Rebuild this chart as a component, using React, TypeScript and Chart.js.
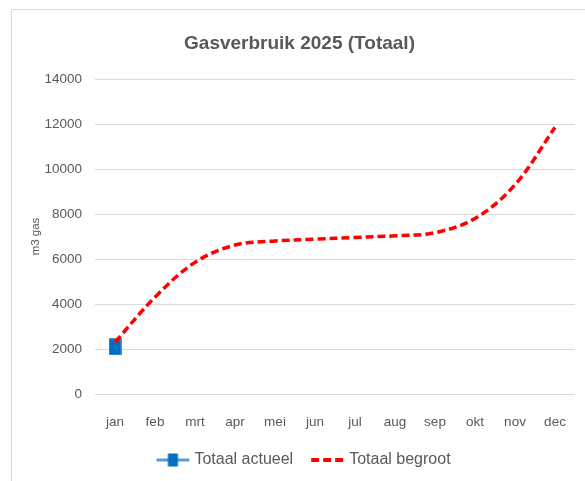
import React, { useEffect, useRef } from "react";
import { Chart, registerables } from "chart.js";

Chart.register(...registerables);

const months = ["jan", "feb", "mrt", "apr", "mei", "jun", "jul", "aug", "sep", "okt", "nov", "dec"];
const totaalActueel: (number | null)[] = [2100, null, null, null, null, null, null, null, null, null, null, null];
const totaalBegroot = [2300, 4300, 5850, 6620, 6800, 6880, 6960, 7030, 7170, 7800, 9300, 11850];
const yTicks = [0, 2000, 4000, 6000, 8000, 10000, 12000, 14000];

const FONT = "'Liberation Sans', Arial, sans-serif";
const TEXT = "#595959";

function makeCanvas(w: number, h: number, draw: (c: CanvasRenderingContext2D) => void) {
  const c = document.createElement("canvas");
  c.width = w;
  c.height = h;
  const ctx = c.getContext("2d")!;
  draw(ctx);
  return c;
}

export default function App() {
  const ref = useRef<HTMLCanvasElement | null>(null);

  useEffect(() => {
    if (!ref.current) return;

    const pointImg = makeCanvas(13, 17, (c) => {
      c.fillStyle = "#0070c0";
      c.fillRect(0, 0, 13, 17);
      c.strokeStyle = "#4a8fd0";
      c.lineWidth = 1;
      c.strokeRect(0.5, 0.5, 12, 16);
    });

    const legActueel = makeCanvas(60, 20, (c) => {
      c.strokeStyle = "#5b9bd5";
      c.lineWidth = 3;
      c.beginPath();
      c.moveTo(19, 10);
      c.lineTo(52, 10);
      c.stroke();
      c.fillStyle = "#0070c0";
      c.fillRect(30.5, 3.5, 10, 13);
    });

    const legBegroot = makeCanvas(60, 20, (c) => {
      c.strokeStyle = "#ff0000";
      c.lineWidth = 4;
      c.setLineDash([8, 4]);
      c.beginPath();
      c.moveTo(19, 10);
      c.lineTo(51, 10);
      c.stroke();
    });

    const chart = new Chart(ref.current, {
      type: "line",
      data: {
        labels: months,
        datasets: [
          {
            label: "Totaal actueel",
            data: totaalActueel,
            borderColor: "#5b9bd5",
            backgroundColor: "#0070c0",
            borderWidth: 3,
            pointStyle: pointImg as any,
            pointRadius: 7,
            order: 1,
          },
          {
            label: "Totaal begroot",
            data: totaalBegroot,
            borderColor: "#ff0000",
            borderWidth: 3.5,
            borderDash: [8, 4],
            pointRadius: 0,
            tension: 0.35,
            fill: false,
            order: 0,
          },
        ],
      },
      options: {
        responsive: false,
        animation: false,
        layout: { padding: { left: 23, right: 9, top: 10, bottom: 3 } },
        scales: {
          x: {
            offset: true,
            grid: { display: false },
            border: { display: false },
            ticks: { color: TEXT, font: { family: FONT, size: 13.5 }, padding: 12 },
            afterFit: (s: any) => {
              s.height = 48;
            },
          },
          y: {
            min: 0,
            max: 14000,
            afterBuildTicks: (s: any) => {
              s.ticks = yTicks.map((v) => ({ value: v }));
            },
            grid: { color: "#d9d9d9", lineWidth: 1, drawTicks: false },
            border: { display: false },
            ticks: {
              color: TEXT,
              font: { family: FONT, size: 13.5 },
              padding: 13,
              callback: (v: any) => String(v),
            },
            title: {
              display: true,
              text: "m3 gas",
              color: TEXT,
              font: { family: FONT, size: 11.5 },
              padding: { top: 6, bottom: 0 },
            },
            afterFit: (s: any) => {
              s.width = 72;
            },
          },
        },
        plugins: {
          title: {
            display: true,
            text: "Gasverbruik 2025 (Totaal)",
            color: TEXT,
            font: { family: FONT, size: 19, weight: "bold" },
            padding: { top: 22.6, bottom: 23.6 },
          },
          legend: {
            position: "bottom",
            labels: {
              usePointStyle: true,
              pointStyleWidth: 38,
              padding: 10,
              color: TEXT,
              font: { family: FONT, size: 16 },
              generateLabels: () => [
                { text: "Totaal actueel", pointStyle: legActueel as any, datasetIndex: 0, fontColor: TEXT, lineWidth: 0, strokeStyle: "transparent", fillStyle: "transparent" },
                { text: "Totaal begroot", pointStyle: legBegroot as any, datasetIndex: 1, fontColor: TEXT, lineWidth: 0, strokeStyle: "transparent", fillStyle: "transparent" },
              ],
            },
          },
          tooltip: { enabled: false },
        },
      },
    });
    return () => chart.destroy();
  }, []);

  return (
    <div style={{ position: "fixed", left: 0, top: 0, width: 585, height: 481, overflow: "hidden", background: "#fff" }}>
      <div style={{ position: "absolute", left: 11, top: 9, width: 700, height: 700, border: "1px solid #d9d9d9" }} />
      <canvas ref={ref} width={585} height={481} style={{ position: "absolute", left: 0, top: 0, width: 585, height: 481 }} />
    </div>
  );
}
